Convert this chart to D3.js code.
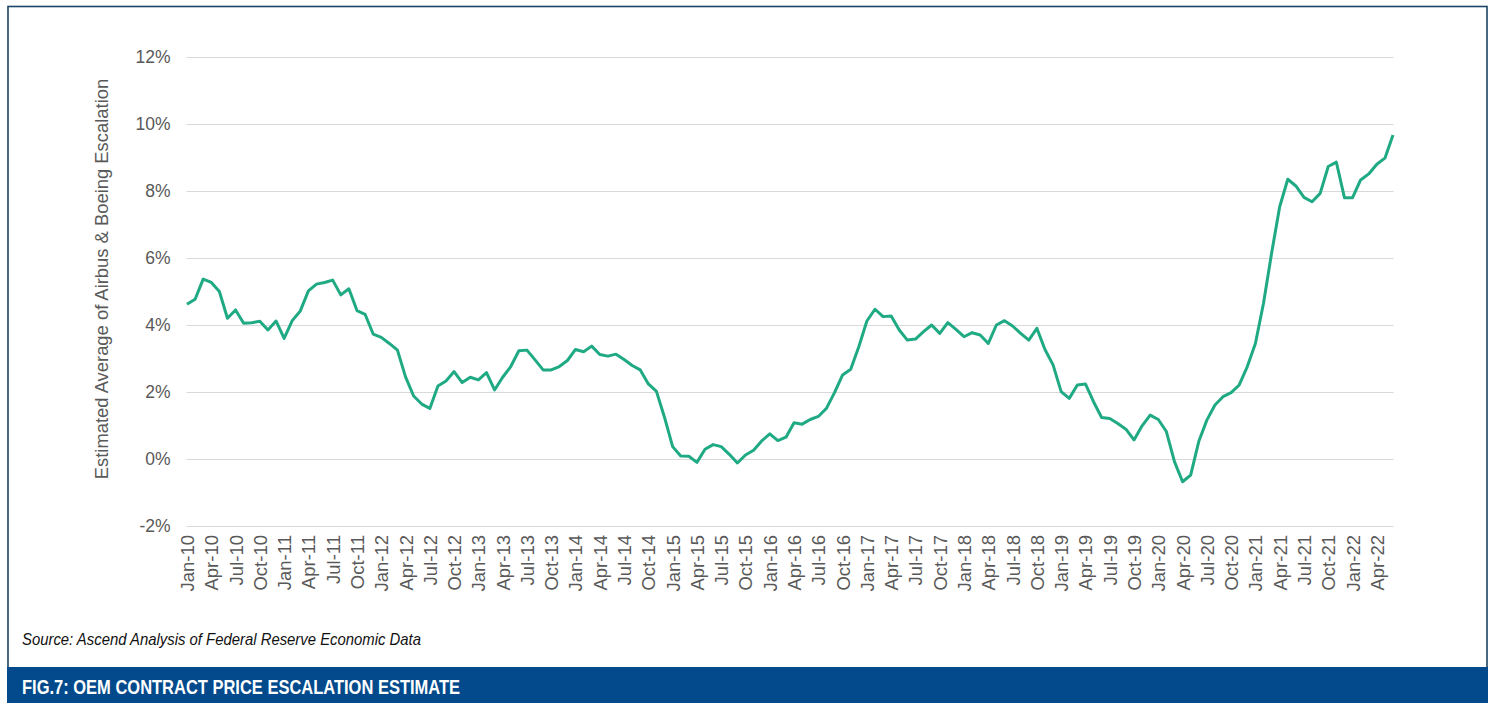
<!DOCTYPE html>
<html>
<head>
<meta charset="utf-8">
<script src="https://cdn.jsdelivr.net/npm/d3@7"></script>
<style>
  body { margin: 0; background: #fff; }
  svg { display: block; }
</style>
</head>
<body>
<div id="chart"></div>
<script>
// Month categories Jan-10 .. Jun-22
var monthNames = ["Jan", "Feb", "Mar", "Apr", "May", "Jun", "Jul", "Aug", "Sep", "Oct", "Nov", "Dec"];
var years = ["10", "11", "12", "13", "14", "15", "16", "17", "18", "19", "20", "21", "22"];
var lastMonthOf22 = 6;

var months = [];
years.forEach(function(yy) {
  var n = yy === "22" ? lastMonthOf22 : 12;
  for (var m = 0; m < n; m++) months.push(monthNames[m] + "-" + yy);
});

// Estimated average escalation (%)
var escalation = [
  4.62, 4.77, 5.37, 5.27, 5.00, 4.20, 4.45, 4.05, 4.07, 4.11, 3.85, 4.12,
  3.60, 4.13, 4.42, 5.02, 5.22, 5.27, 5.34, 4.90, 5.08, 4.43, 4.32, 3.73,
  3.63, 3.45, 3.25, 2.45, 1.88, 1.64, 1.51, 2.18, 2.33, 2.61, 2.28, 2.44,
  2.36, 2.58, 2.06, 2.44, 2.76, 3.23, 3.25, 2.96, 2.66, 2.66, 2.76, 2.94,
  3.27, 3.20, 3.37, 3.12, 3.07, 3.13, 2.97, 2.79, 2.66, 2.24, 2.02, 1.24,
  0.37, 0.09, 0.08, -0.10, 0.29, 0.43, 0.37, 0.14, -0.12, 0.12, 0.26, 0.54,
  0.75, 0.55, 0.65, 1.08, 1.04, 1.18, 1.27, 1.51, 1.98, 2.51, 2.68, 3.35,
  4.12, 4.47, 4.25, 4.27, 3.85, 3.55, 3.58, 3.80, 4.00, 3.75, 4.07, 3.87,
  3.65, 3.77, 3.70, 3.45, 4.00, 4.13, 3.97, 3.75, 3.55, 3.90, 3.27, 2.81,
  2.01, 1.81, 2.21, 2.24, 1.71, 1.24, 1.21, 1.06, 0.89, 0.57, 0.99, 1.31,
  1.18, 0.82, -0.08, -0.68, -0.48, 0.52, 1.16, 1.61, 1.86, 1.98, 2.21, 2.76,
  3.45, 4.65, 6.14, 7.53, 8.35, 8.15, 7.81, 7.68, 7.93, 8.73, 8.86, 7.80,
  7.80, 8.33, 8.51, 8.80, 8.98, 9.67
];

var yTicks = [-2, 0, 2, 4, 6, 8, 10, 12];

var svgWidth = 1496;
var svgHeight = 711;

// plot area
var plotLeft = 187;
var plotRight = 1393;
var plotTop = 57;
var plotBottom = 526;

var svg = d3.select("#chart")
  .append("svg")
  .attr("width", svgWidth)
  .attr("height", svgHeight);

// frame around the figure
svg.append("rect")
  .attr("x", 8)
  .attr("y", 6.5)
  .attr("width", 1479)
  .attr("height", 662)
  .attr("fill", "none")
  .attr("stroke", "#1b4466")
  .attr("stroke-width", 1.6);

var xScale = d3.scalePoint()
  .domain(months)
  .range([plotLeft, plotRight]);

var yScale = d3.scaleLinear()
  .domain([-2, 12])
  .range([plotBottom, plotTop]);

// y axis with gridlines
var leftAxis = d3.axisLeft(yScale)
  .tickValues(yTicks)
  .tickFormat(function(d) { return d + "%"; })
  .tickSizeInner(-(plotRight - plotLeft + 1))
  .tickSizeOuter(0)
  .tickPadding(16);

var yAxisG = svg.append("g")
  .attr("transform", "translate(" + (plotLeft - 0.5) + ",0)")
  .call(leftAxis);

yAxisG.select(".domain").remove();
yAxisG.selectAll(".tick line")
  .attr("stroke", "#d9d9d9")
  .attr("stroke-width", 1);
yAxisG.selectAll(".tick text")
  .attr("fill", "#595959")
  .style("font-family", "'Liberation Sans', Arial, sans-serif")
  .style("font-size", "17.5px");

// x axis: every third month
var bottomAxis = d3.axisBottom(xScale)
  .tickValues(months.filter(function(d, i) { return i % 3 === 0; }))
  .tickSize(0);

var xAxisG = svg.append("g")
  .attr("transform", "translate(0," + plotBottom + ")")
  .call(bottomAxis);

xAxisG.select(".domain").remove();
xAxisG.selectAll(".tick text")
  .attr("transform", "rotate(-90)")
  .attr("x", -9)
  .attr("y", 0)
  .attr("dy", "0.35em")
  .style("text-anchor", "end")
  .attr("fill", "#595959")
  .style("font-family", "'Liberation Sans', Arial, sans-serif")
  .style("font-size", "18.5px");

// y axis title
svg.append("text")
  .attr("transform", "translate(102,279) rotate(-90)")
  .attr("dy", "0.35em")
  .style("text-anchor", "middle")
  .style("font-family", "'Liberation Sans', Arial, sans-serif")
  .style("font-size", "18.4px")
  .attr("fill", "#595959")
  .text("Estimated Average of Airbus & Boeing Escalation");

// the line
var line = d3.line()
  .x(function(d, i) { return xScale(months[i]); })
  .y(function(d) { return yScale(d); });

svg.append("path")
  .datum(escalation)
  .attr("d", line)
  .attr("fill", "none")
  .attr("stroke", "#20aa84")
  .attr("stroke-width", 3)
  .attr("stroke-linejoin", "round");

// source note
svg.append("text")
  .attr("x", 22)
  .attr("y", 645)
  .attr("textLength", 399)
  .attr("lengthAdjust", "spacingAndGlyphs")
  .style("font-family", "'Liberation Sans Narrow', 'Liberation Sans', Arial, sans-serif")
  .style("font-style", "italic")
  .style("font-size", "17px")
  .attr("fill", "#111")
  .text("Source: Ascend Analysis of Federal Reserve Economic Data");

// title banner
svg.append("rect")
  .attr("x", 7)
  .attr("y", 667)
  .attr("width", 1481)
  .attr("height", 36)
  .attr("fill", "#034a8c");

svg.append("text")
  .attr("x", 22)
  .attr("y", 694)
  .attr("textLength", 438)
  .attr("lengthAdjust", "spacingAndGlyphs")
  .style("font-family", "'Liberation Sans Narrow', 'Liberation Sans', Arial, sans-serif")
  .style("font-weight", "bold")
  .style("font-size", "21px")
  .attr("fill", "#fff")
  .text("FIG.7: OEM CONTRACT PRICE ESCALATION ESTIMATE");
</script>
</body>
</html>
